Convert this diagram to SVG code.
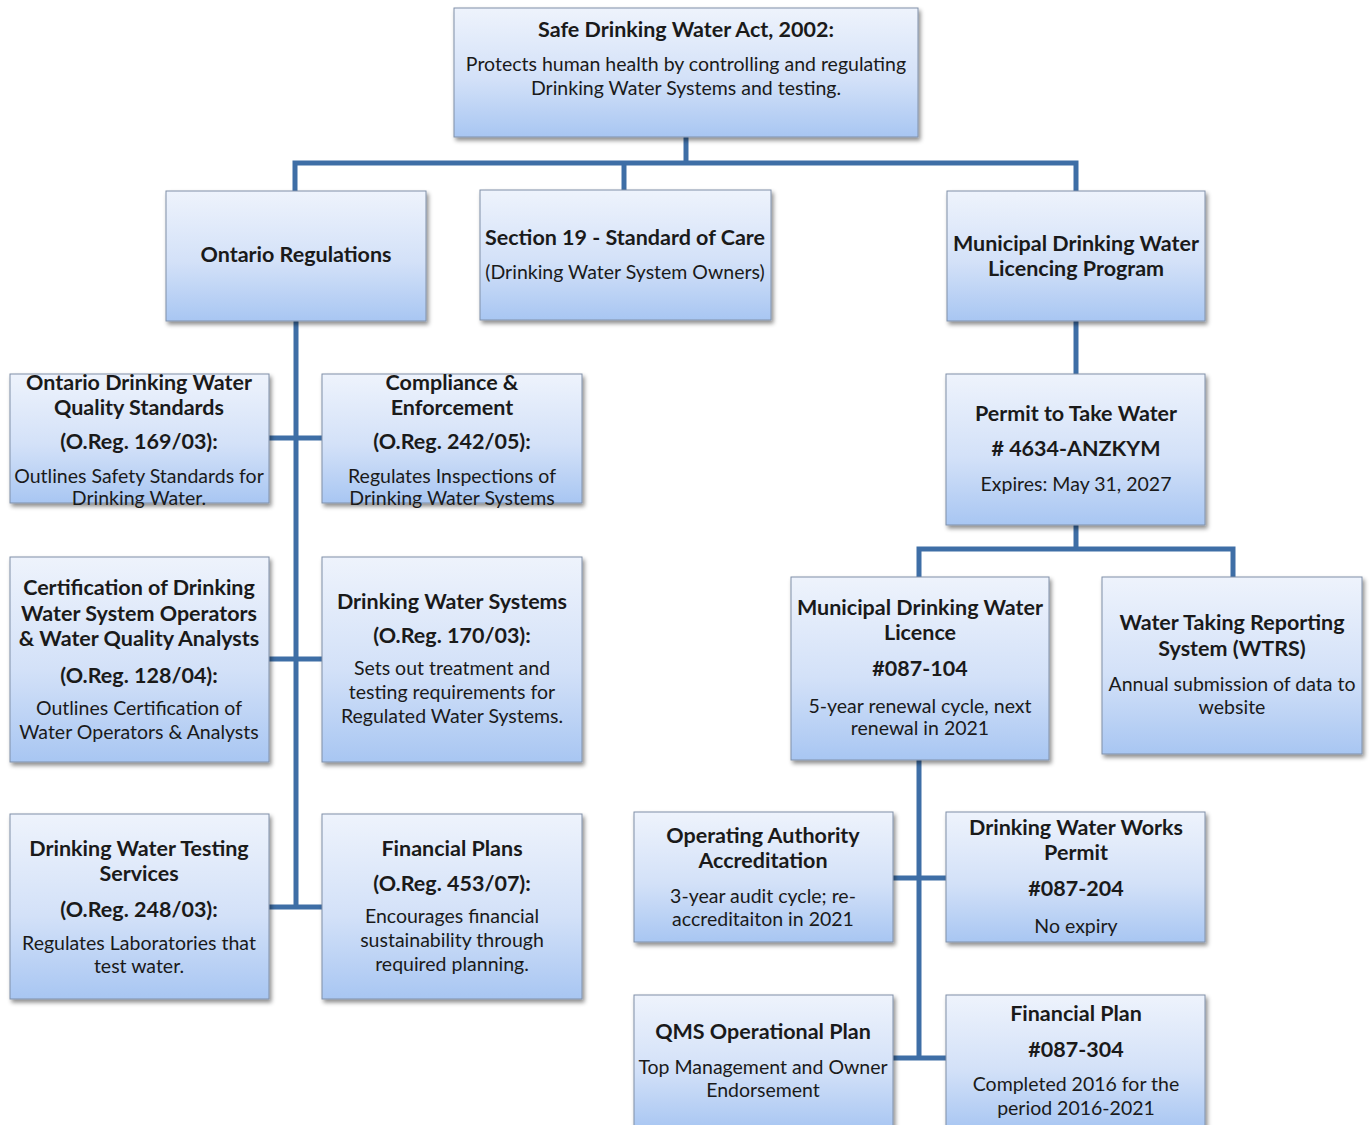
<svg xmlns="http://www.w3.org/2000/svg" width="1369" height="1125" viewBox="0 0 1369 1125">
<defs>
<linearGradient id="g" x1="0" y1="0" x2="0" y2="1">
<stop offset="0" stop-color="#eef3fc"/>
<stop offset="0.55" stop-color="#d3e1f8"/>
<stop offset="1" stop-color="#a8c6f2"/>
</linearGradient>
<filter id="sh" x="-10%" y="-10%" width="125%" height="130%">
<feDropShadow dx="2" dy="3" stdDeviation="2" flood-color="#000" flood-opacity="0.45"/>
</filter>
</defs>
<style>
.box{fill:url(#g);stroke:#8090a8;stroke-width:1;filter:url(#sh)}
text{font-family:Lato,"Open Sans","Liberation Sans",sans-serif;fill:#1a1a1a;text-anchor:middle;dominant-baseline:central}
.b{font-weight:bold;font-size:21.5px}
.n{font-size:19.5px}
.c line,.c polyline{stroke:#3e6ea6;stroke-width:5;fill:none}
</style>
<rect width="1369" height="1125" fill="#ffffff"/>
<g class="c" id="connectors">
<polyline points="686,137 686,163"/>
<polyline points="295,191 295,163 1076,163 1076,191"/>
<line x1="624" y1="163" x2="624" y2="190"/>
<line x1="296" y1="321" x2="296" y2="907"/>
<line x1="269" y1="438" x2="322" y2="438"/>
<line x1="269" y1="659" x2="322" y2="659"/>
<line x1="269" y1="907" x2="322" y2="907"/>
<line x1="1076" y1="321" x2="1076" y2="374"/>
<line x1="1076" y1="525" x2="1076" y2="549"/>
<polyline points="919,577 919,549 1233,549 1233,577"/>
<line x1="919" y1="760" x2="919" y2="1058"/>
<line x1="893" y1="878" x2="946" y2="878"/>
<line x1="893" y1="1058" x2="946" y2="1058"/>
</g>
<g id="act"><rect class="box" x="454" y="8" width="464" height="129"/>
<text class="b" x="686" y="29">Safe Drinking Water Act, 2002:</text>
<text class="n" x="686" y="63">Protects human health by controlling and regulating</text>
<text class="n" x="686" y="87">Drinking Water Systems and testing.</text></g>
<g id="ontreg"><rect class="box" x="166" y="191" width="260" height="130"/>
<text class="b" x="296" y="254">Ontario Regulations</text></g>
<g id="sec19"><rect class="box" x="480" y="190" width="291" height="130"/>
<text class="b" x="625" y="237">Section 19 - Standard of Care</text>
<text class="n" x="625" y="271">(Drinking Water System Owners)</text></g>
<g id="mdwlp"><rect class="box" x="947" y="191" width="258" height="130"/>
<text class="b" x="1076" y="243">Municipal Drinking Water</text>
<text class="b" x="1076" y="268">Licencing Program</text></g>
<g id="odwqs"><rect class="box" x="10" y="374" width="259" height="129"/>
<text class="b" x="139" y="382">Ontario Drinking Water</text>
<text class="b" x="139" y="407">Quality Standards</text>
<text class="b" x="139" y="441">(O.Reg. 169/03):</text>
<text class="n" x="139" y="475">Outlines Safety Standards for</text>
<text class="n" x="139" y="497">Drinking Water.</text></g>
<g id="compliance"><rect class="box" x="322" y="374" width="260" height="129"/>
<text class="b" x="452" y="382">Compliance &amp;</text>
<text class="b" x="452" y="407">Enforcement</text>
<text class="b" x="452" y="441">(O.Reg. 242/05):</text>
<text class="n" x="452" y="475">Regulates Inspections of</text>
<text class="n" x="452" y="497">Drinking Water Systems</text></g>
<g id="cert"><rect class="box" x="10" y="557" width="259" height="205"/>
<text class="b" x="139" y="587">Certification of Drinking</text>
<text class="b" x="139" y="613">Water System Operators</text>
<text class="b" x="139" y="638">&amp; Water Quality Analysts</text>
<text class="b" x="139" y="675">(O.Reg. 128/04):</text>
<text class="n" x="139" y="707">Outlines Certification of</text>
<text class="n" x="139" y="731">Water Operators &amp; Analysts</text></g>
<g id="dws"><rect class="box" x="322" y="557" width="260" height="205"/>
<text class="b" x="452" y="601">Drinking Water Systems</text>
<text class="b" x="452" y="635">(O.Reg. 170/03):</text>
<text class="n" x="452" y="667">Sets out treatment and</text>
<text class="n" x="452" y="691">testing requirements for</text>
<text class="n" x="452" y="715">Regulated Water Systems.</text></g>
<g id="testing"><rect class="box" x="10" y="814" width="259" height="185"/>
<text class="b" x="139" y="848">Drinking Water Testing</text>
<text class="b" x="139" y="873">Services</text>
<text class="b" x="139" y="909">(O.Reg. 248/03):</text>
<text class="n" x="139" y="942">Regulates Laboratories that</text>
<text class="n" x="139" y="965">test water.</text></g>
<g id="finplans"><rect class="box" x="322" y="814" width="260" height="185"/>
<text class="b" x="452" y="848">Financial Plans</text>
<text class="b" x="452" y="883">(O.Reg. 453/07):</text>
<text class="n" x="452" y="915">Encourages financial</text>
<text class="n" x="452" y="939">sustainability through</text>
<text class="n" x="452" y="963">required planning.</text></g>
<g id="ptw"><rect class="box" x="946" y="374" width="259" height="151"/>
<text class="b" x="1076" y="413">Permit to Take Water</text>
<text class="b" x="1076" y="448"># 4634-ANZKYM</text>
<text class="n" x="1076" y="483">Expires:  May 31, 2027</text></g>
<g id="mdwl"><rect class="box" x="791" y="577" width="258" height="183"/>
<text class="b" x="920" y="607">Municipal Drinking Water</text>
<text class="b" x="920" y="632">Licence</text>
<text class="b" x="920" y="668">#087-104</text>
<text class="n" x="920" y="705">5-year renewal cycle, next</text>
<text class="n" x="920" y="727">renewal in 2021</text></g>
<g id="wtrs"><rect class="box" x="1102" y="577" width="260" height="177"/>
<text class="b" x="1232" y="622">Water Taking Reporting</text>
<text class="b" x="1232" y="648">System (WTRS)</text>
<text class="n" x="1232" y="683">Annual submission of data to</text>
<text class="n" x="1232" y="706">website</text></g>
<g id="oaa"><rect class="box" x="634" y="812" width="259" height="130"/>
<text class="b" x="763" y="835">Operating Authority</text>
<text class="b" x="763" y="860">Accreditation</text>
<text class="n" x="763" y="895">3-year audit cycle; re-</text>
<text class="n" x="763" y="918">accreditaiton in 2021</text></g>
<g id="dwwp"><rect class="box" x="946" y="812" width="259" height="130"/>
<text class="b" x="1076" y="827">Drinking Water Works</text>
<text class="b" x="1076" y="852">Permit</text>
<text class="b" x="1076" y="888">#087-204</text>
<text class="n" x="1076" y="925">No expiry</text></g>
<g id="qms"><rect class="box" x="634" y="995" width="259" height="135"/>
<text class="b" x="763" y="1031">QMS Operational Plan</text>
<text class="n" x="763" y="1066">Top Management and Owner</text>
<text class="n" x="763" y="1089">Endorsement</text></g>
<g id="finplan"><rect class="box" x="946" y="995" width="259" height="135"/>
<text class="b" x="1076" y="1013">Financial Plan</text>
<text class="b" x="1076" y="1049">#087-304</text>
<text class="n" x="1076" y="1083">Completed 2016 for the</text>
<text class="n" x="1076" y="1107">period 2016-2021</text></g>
</svg>
